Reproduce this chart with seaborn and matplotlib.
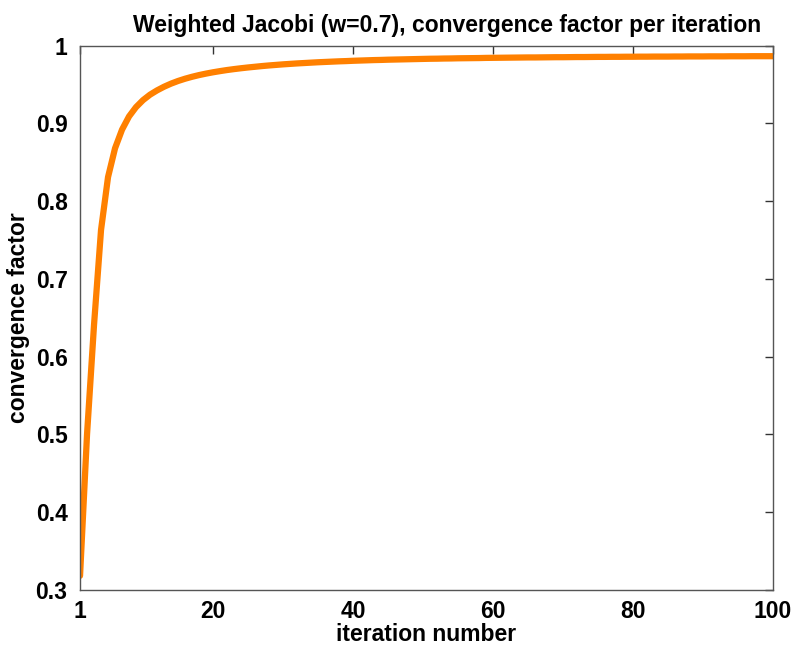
import numpy as np
import pandas as pd
import seaborn as sns
import matplotlib.pyplot as plt

# convergence factor per iteration
iterations = list(range(1, 101))
factor = [
    0.3180, 0.5000, 0.6410, 0.7630, 0.8310, 0.8680, 0.8920, 0.9090, 0.9210, 0.9300,
    0.9370, 0.9425, 0.9472, 0.9512, 0.9546, 0.9575, 0.9600, 0.9622, 0.9641, 0.9658,
    0.9673, 0.9687, 0.9699, 0.9710, 0.9720, 0.9729, 0.9738, 0.9746, 0.9753, 0.9760,
    0.9766, 0.9772, 0.9777, 0.9782, 0.9787, 0.9791, 0.9795, 0.9799, 0.9802, 0.9806,
    0.9809, 0.9812, 0.9815, 0.9817, 0.9820, 0.9822, 0.9824, 0.9826, 0.9828, 0.9830,
    0.9832, 0.9833, 0.9835, 0.9836, 0.9838, 0.9839, 0.9840, 0.9841, 0.9843, 0.9844,
    0.9845, 0.9846, 0.9847, 0.9848, 0.9849, 0.9849, 0.9850, 0.9851, 0.9852, 0.9852,
    0.9853, 0.9854, 0.9854, 0.9855, 0.9856, 0.9856, 0.9857, 0.9857, 0.9858, 0.9858,
    0.9859, 0.9859, 0.9860, 0.9860, 0.9860, 0.9861, 0.9861, 0.9862, 0.9862, 0.9862,
    0.9863, 0.9863, 0.9863, 0.9864, 0.9864, 0.9864, 0.9865, 0.9865, 0.9865, 0.9865,
]
x_ticks = [1, 20, 40, 60, 80, 100]
y_ticks = [0.3, 0.4, 0.5, 0.6, 0.7, 0.8, 0.9, 1.0]
y_tick_labels = ["0.3", "0.4", "0.5", "0.6", "0.7", "0.8", "0.9", "1"]

df = pd.DataFrame({"iteration": iterations, "factor": factor})

sns.set_style("white")
plt.rcParams["font.family"] = ["Liberation Sans", "DejaVu Sans"]
plt.rcParams["font.weight"] = "bold"
plt.rcParams["text.color"] = "black"

fig = plt.figure(figsize=(7.94, 6.51), dpi=100)
ax = fig.add_axes([0.1008, 0.094, 0.8728, 0.8358])

sns.lineplot(data=df, x="iteration", y="factor", ax=ax,
             color="#ff8000", linewidth=4.5)

ax.set_xlim(1, 100)
ax.set_ylim(0.3, 1.0)
ax.set_xticks(x_ticks)
ax.set_xticklabels([str(t) for t in x_ticks])
ax.set_yticks(y_ticks)
ax.set_yticklabels(y_tick_labels)
ax.tick_params(direction="in", length=6, width=1, color="#333333",
               labelcolor="black", top=True, right=True, labelsize=16.5)
ax.tick_params(axis="y", pad=9)
ax.tick_params(axis="x", pad=7)
for lab in ax.get_xticklabels() + ax.get_yticklabels():
    lab.set_fontweight("bold")
for sp in ax.spines.values():
    sp.set_color("#555555")
    sp.set_linewidth(1)

ax.set_xlabel("iteration number", fontsize=16.5, fontweight="bold",
              color="black", labelpad=0)
ax.set_ylabel("convergence factor", fontsize=16.5, fontweight="bold",
              color="black", labelpad=4)
ax.set_title("Weighted Jacobi (w=0.7), convergence factor per iteration",
             fontsize=16.5, fontweight="bold", color="black", pad=10, x=0.53)

fig.savefig("out.png", dpi=100)
